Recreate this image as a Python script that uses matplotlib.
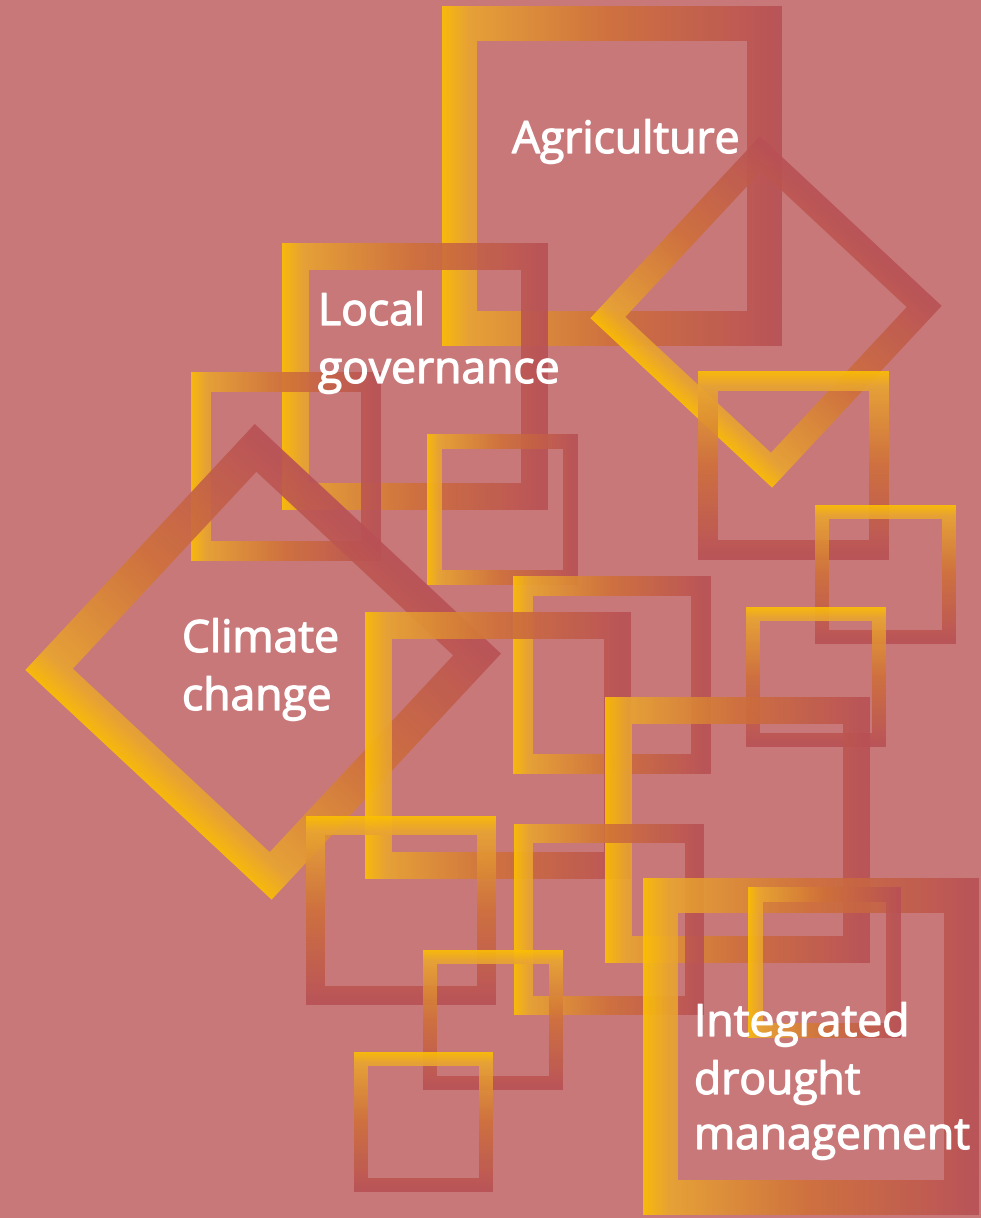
import numpy as np
import matplotlib
matplotlib.use('Agg')
import matplotlib.pyplot as plt
import matplotlib.patheffects as pe
from matplotlib.path import Path
from matplotlib.patches import PathPatch
from matplotlib.transforms import Affine2D

# frames in pixel space (y down): left, top, width, height, bar thickness,
# rotation (deg, about the centre) and gradient axis ('h' = yellow left, 'v' = yellow top)
frame_x = [442, 282, 191, 427, 641.5, 94.5, 698, 815, 513, 365, 746, 605, 306, 514, 423, 643, 748, 354]
frame_y = [6, 243, 372, 434, 187.5, 493.5, 371, 505, 576, 612, 607, 697, 816, 824, 950, 878, 887, 1052]
frame_w = [340, 266, 190, 151, 249, 337, 191, 141, 198, 266, 140, 265, 190, 190, 140, 336, 153, 139]
frame_h = [340, 267, 189, 151, 249, 337, 189, 139, 198, 267, 140, 266, 189, 191, 140, 337, 151, 140]
frame_t = [35, 27, 20, 15, 25, 34, 20, 14, 20, 27, 14, 27, 19, 19, 14, 35, 15, 14]
frame_rot = [0, 0, 0, 0, -47, -47, 0, 0, 0, 0, 0, 0, 0, 0, 0, 0, 0, 0]
frame_grad = ['h', 'h', 'h', 'h', 'h', 'h', 'v', 'v', 'h', 'h', 'v', 'h', 'v', 'h', 'v', 'h', 'h', 'v']

# labels: one entry per line, left edge and baseline
label_lines = ['Agriculture', 'Local', 'governance', 'Climate', 'change',
               'Integrated', 'drought', 'management']
label_x = [512, 318, 318, 182, 182, 694, 694, 694]
label_y = [153, 325, 383, 652, 710, 1036, 1094, 1149]

bg = '#C97879'
stops = np.array([0.0, 0.08, 0.5, 1.0])
stop_cols = np.array([[253, 193, 0], [234, 166, 48], [207, 112, 58], [184, 80, 86]]) / 255.0
alpha = 0.9


def gradient(grad, n=256):
    r = np.linspace(0, 1, n)
    rgb = np.stack([np.interp(r, stops, stop_cols[:, i]) for i in range(3)], axis=1)
    rgba = np.concatenate([rgb, np.full((n, 1), alpha)], axis=1)
    if grad == 'h':
        return np.tile(rgba[None, :, :], (n, 1, 1))
    return np.tile(rgba[:, None, :], (1, n, 1))


def frame_path(x, y, w, h, t):
    outer = [(x, y), (x + w, y), (x + w, y + h), (x, y + h), (x, y)]
    xi, yi, wi, hi = x + t, y + t, w - 2 * t, h - 2 * t
    inner = [(xi, yi), (xi, yi + hi), (xi + wi, yi + hi), (xi + wi, yi), (xi, yi)]
    codes = [Path.MOVETO, Path.LINETO, Path.LINETO, Path.LINETO, Path.CLOSEPOLY]
    return Path(outer + inner, codes + codes)


fig = plt.figure(figsize=(9.81, 12.18), dpi=100)
fig.patch.set_facecolor(bg)
ax = fig.add_axes([0, 0, 1, 1])
ax.set_facecolor(bg)

for x, y, w, h, t, rot, g in zip(frame_x, frame_y, frame_w, frame_h, frame_t, frame_rot, frame_grad):
    tr = Affine2D().rotate_deg_around(x + w / 2, y + h / 2, rot) + ax.transData
    im = ax.imshow(gradient(g), extent=(x, x + w, y + h, y), transform=tr,
                   interpolation='bilinear', origin='upper')
    patch = PathPatch(frame_path(x, y, w, h, t), transform=tr, facecolor='none', edgecolor='none')
    ax.add_patch(patch)
    im.set_clip_path(patch)

for s, x, y in zip(label_lines, label_x, label_y):
    ax.text(x, y, s, color='white', fontsize=32, family='Open Sans',
            ha='left', va='baseline',
            path_effects=[pe.withStroke(linewidth=0.9, foreground='white')])

ax.set_xlim(0, 981)
ax.set_ylim(1218, 0)
ax.set_aspect('auto')
ax.axis('off')

fig.savefig('out.png', dpi=100, facecolor=bg)
